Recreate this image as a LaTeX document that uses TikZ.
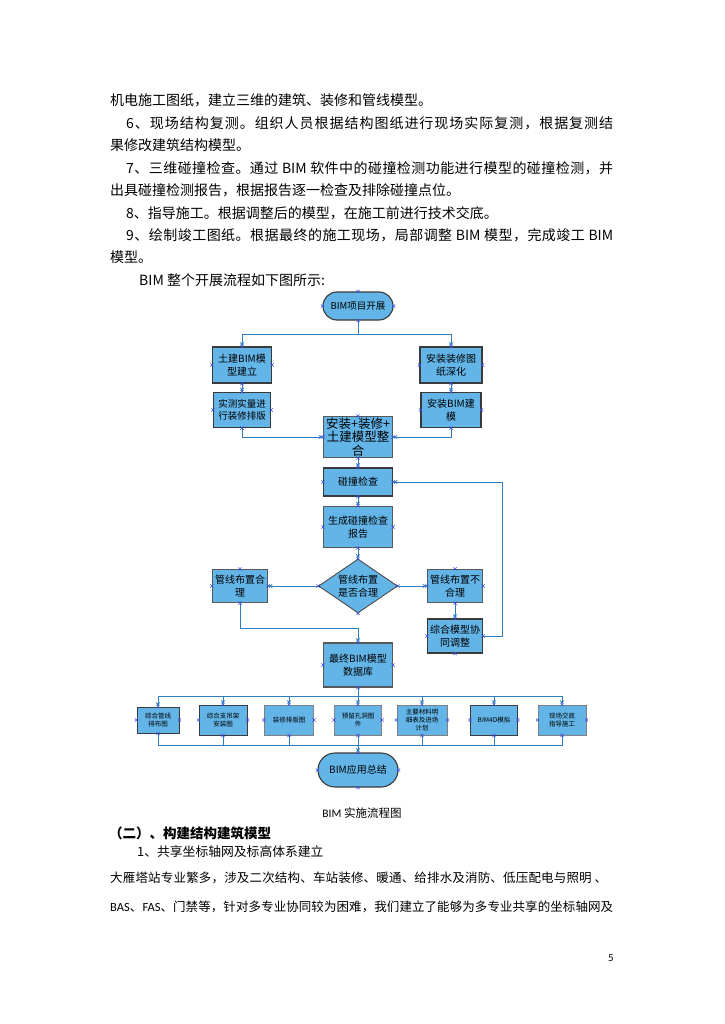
\documentclass[tikz,border=0pt]{standalone}
\usepackage{fontspec}
\setmainfont{Noto Sans CJK SC}
\newfontfamily\carl{Carlito}
\usetikzlibrary{shapes.geometric,arrows.meta}
\definecolor{boxfill}{RGB}{99,181,232}
\definecolor{boxline}{RGB}{58,58,58}
\definecolor{conncol}{RGB}{46,125,192}
\definecolor{xmcol}{RGB}{56,80,224}
\makeatletter
\newcommand\jl[2]{\hbox to #1{\@tfor\jx:=#2\do{\jx\hfil}\unskip}}
\makeatother
\newcommand\fs[2]{\fontsize{#1}{#2}\selectfont}
\newcommand\xmarks[1]{\foreach \a in {north,south,east,west}{\draw[xm] (#1.\a) +(-1.6,-1.6) -- +(1.6,1.6) +(-1.6,1.6) -- +(1.6,-1.6);}}
\tikzset{
  body/.style={anchor=west,inner sep=0pt,font=\fs{14}{16}},
  box/.style={draw=boxline,fill=boxfill,line width=1.1pt,inner sep=0.5pt,align=center,font=\fs{10}{12.5}},
  term/.style={box,rounded corners=#1},
  sbox/.style={box,font=\fs{6.5}{8},line width=1pt},
  conn/.style={draw=conncol,line width=0.9pt},
  arr/.style={conn,-{Stealth[length=4.5pt,width=4pt]}},
  xm/.style={draw=xmcol,line width=0.45pt}
}
\begin{document}
\begin{tikzpicture}[x=1pt,y=-1pt]
\useasboundingbox (0,0) rectangle (724,1024);
\fill[white] (0,0) rectangle (724,1024);
% body text
\node[body] (t1) at (110,100) {机电施工图纸，建立三维的建筑、装修和管线模型。};
\node[body] (t2) at (126,123) {\jl{487pt}{6、现场结构复测。组织人员根据结构图纸进行现场实际复测，根据复测结}};
\node[body] (t3) at (110,145) {果修改建筑结构模型。};
\node[body] (t4) at (126,168) {\jl{487pt}{7、三维碰撞检查。通过{\ BIM\ }软件中的碰撞检测功能进行模型的碰撞检测，并}};
\node[body] (t5) at (110,190) {出具碰撞检测报告，根据报告逐一检查及排除碰撞点位。};
\node[body] (t6) at (126,213) {8、指导施工。根据调整后的模型，在施工前进行技术交底。};
\node[body] (t7) at (126,235) {\jl{487pt}{9、绘制竣工图纸。根据最终的施工现场，局部调整{\ BIM\ }模型，完成竣工{\ BIM}}};
\node[body] (t8) at (110,257) {模型。};
\node[body] (t9) at (139,280) {BIM 整个开展流程如下图所示:};
% flowchart nodes
\node[term=14pt,minimum width=70,minimum height=28,font=\fs{9.5}{11}] (start) at (358,306) {BIM项目开展};
\node[box,minimum width=59,minimum height=36] (tj) at (242,365) {土建BIM模\\型建立};
\node[box,minimum width=62,minimum height=36] (az) at (451,365) {安装装修图\\纸深化};
\node[box,minimum width=57,minimum height=35,font=\fs{9.5}{12}] (sc) at (242,410) {实测实量进\\行装修排版};
\node[box,minimum width=60,minimum height=35] (azbim) at (451,410) {安装BIM建\\模};
\node[box,minimum width=69,minimum height=41,font=\fs{12.5}{13.5},line width=0.9pt,draw=black!65] (zh) at (358,437) {安装+装修+\\土建模型整\\合};
\node[box,minimum width=69,minimum height=28] (pz) at (358,482) {碰撞检查};
\node[box,minimum width=69,minimum height=41,draw=black!65] (bg) at (358,527) {生成碰撞检查\\报告};
\node[box,diamond,shape aspect=1.46,inner sep=-1pt,minimum width=79,minimum height=54,line width=0.9pt,draw=black!70] (dm) at (358,586) {管线布置\\是否合理};
\node[box,minimum width=55,minimum height=33,draw=black!65] (hl) at (240,586) {管线布置合\\理};
\node[box,minimum width=55,minimum height=33,draw=black!65] (bhl) at (455,586) {管线布置不\\合理};
\node[box,minimum width=55,minimum height=34] (tz) at (455,636) {综合模型协\\同调整};
\node[box,minimum width=69,minimum height=44,draw=black!65] (zz) at (358,665) {最终BIM模型\\数据库};
% bottom row
\node[sbox,minimum width=42,minimum height=26] (b1) at (158,720) {综合管线\\排布图};
\node[sbox,minimum width=48,minimum height=30] (b2) at (223,720) {综合支吊架\\安装图};
\node[sbox,minimum width=49,minimum height=30,draw=black!50] (b3) at (289,720) {装修排版图};
\node[sbox,minimum width=47,minimum height=30,draw=black!50] (b4) at (358,720) {预留孔洞图\\件};
\node[sbox,minimum width=50,minimum height=30,draw=black!50,font=\fs{6.5}{7.6}] (b5) at (422,720) {主要材料明\\细表及进场\\计划};
\node[sbox,minimum width=47,minimum height=30] (b6) at (494,720) {BIM4D模拟};
\node[sbox,minimum width=48,minimum height=30,draw=black!50] (b7) at (562,720) {现场交底\\指导施工};
\node[term=17pt,minimum width=80,minimum height=34] (end) at (358,770) {BIM应用总结};
% connectors
\coordinate (j1) at (358,334);
\draw[conn] (start.south) -- (j1);
\draw[arr] (j1) -| (tj.north);
\draw[arr] (j1) -| (az.north);
\draw[arr] (tj.south) -- (sc.north);
\draw[arr] (az.south) -- (azbim.north);
\draw[arr] (sc.south) |- (zh.west);
\draw[arr] (azbim.south) |- (zh.east);
\draw[arr] (zh.south) -- (pz.north);
\draw[arr] (pz.south) -- (bg.north);
\draw[arr] (bg.south) -- (dm.north);
\draw[arr] (dm.west) -- (hl.east);
\draw[arr] (dm.east) -- (bhl.west);
\draw[arr] (bhl.south) -- (tz.north);
\coordinate (j5) at (502,636);
\draw[arr] (tz.east) -- (j5) |- (pz.east);
\coordinate (j2) at (358,628);
\draw[arr] (hl.south) |- (j2) -- (zz.north);
\coordinate (j3) at (358,696);
\draw[conn] (zz.south) -- (j3);
\foreach \b in {b1,b2,b3,b4,b5,b6,b7}{\draw[arr] (j3) -| (\b.north);}
\coordinate (j4) at (358,745);
\foreach \b in {b1,b2,b3,b4,b5,b6,b7}{\draw[conn] (\b.south) |- (j4);}
\draw[arr] (j4) -- (end.north);
% connection point marks
\foreach \n in {start,tj,az,sc,azbim,zh,pz,bg,dm,hl,bhl,tz,zz,b1,b2,b3,b4,b5,b6,b7,end}{\xmarks{\n}}
% caption and following text
\node[inner sep=0pt,font=\fs{11.5}{13}] (cap) at (362,813) {{\carl BIM} 实施流程图};
\node[body,font=\bfseries\fs{13.5}{15}] (h2) at (109,833) {（二）、构建结构建筑模型};
\node[body,font=\fs{12.8}{15}] (s1) at (137,852) {1、共享坐标轴网及标高体系建立};
\node[body,font=\fs{12.5}{15}] (p1) at (110,878) {\jl{497pt}{大雁塔站专业繁多，涉及二次结构、车站装修、暖通、给排水及消防、低压配电与照明{\ 、}}};
\node[body,font=\fs{12.5}{15}] (p2) at (110,907) {\jl{503pt}{{{\carl BAS}}、{{\carl FAS}}、门禁等，针对多专业协同较为困难，我们建立了能够为多专业共享的坐标轴网及}};
\node[inner sep=0pt,font=\carl\fs{11}{13}] (pg) at (611,958) {5};
\end{tikzpicture}
\end{document}
